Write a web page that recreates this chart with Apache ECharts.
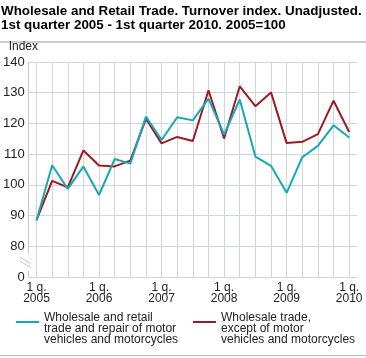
<!DOCTYPE html>
<html>
<head>
<meta charset="utf-8">
<script src="https://cdn.jsdelivr.net/npm/echarts@6/dist/echarts.min.js"></script>
<style>
html,body{margin:0;padding:0;background:#fff;}
#chart{width:366px;height:358px;}
</style>
</head>
<body>
<div id="chart"></div>
<script>
var quarters = ['1 q. 2005','2 q. 2005','3 q. 2005','4 q. 2005',
  '1 q. 2006','2 q. 2006','3 q. 2006','4 q. 2006',
  '1 q. 2007','2 q. 2007','3 q. 2007','4 q. 2007',
  '1 q. 2008','2 q. 2008','3 q. 2008','4 q. 2008',
  '1 q. 2009','2 q. 2009','3 q. 2009','4 q. 2009',
  '1 q. 2010'];
var seriesNames = ['Wholesale and retail\ntrade and repair of motor\nvehicles and motorcycles',
  'Wholesale trade,\nexcept of motor\nvehicles and motorcycles'];
var retailRepair = [88.4,106.4,98.7,106.0,96.7,108.4,106.9,122.2,114.6,122.0,121.0,128.1,116.4,127.8,109.2,106.2,97.4,109.0,112.7,119.4,115.4];
var wholesale = [88.5,101.3,99.2,111.2,106.3,106.0,107.9,121.5,113.5,115.6,114.3,130.8,115.1,132.1,125.6,130.1,113.6,114.0,116.5,127.4,117.2];
var yTicks = [70,80,90,100,110,120,130,140];
var yTickLabels = ['0','80','90','100','110','120','130','140'];

var quarterIdx = quarters.map(function(q,i){return i;});
var labelIdx = quarterIdx.filter(function(i){return quarters[i].indexOf('1 q.')===0;});
function pairs(arr){return arr.map(function(v,i){return [quarterIdx[i], v];});}

var chart = echarts.init(document.getElementById('chart'), null, {renderer:'canvas'});
var font = 'Liberation Sans, Arial, sans-serif';
var gridColor = '#d3d5dc';
var legendIcon = 'path://M0,0L0.01,0 M0,4L23,4L23,6L0,6Z M0,24L0.01,24';
chart.setOption({
  animation:false,
  textStyle:{fontFamily:font},
  title:{
    text:'Wholesale and Retail Trade. Turnover index. Unadjusted.\n1st quarter 2005 - 1st quarter 2010. 2005=100',
    left:1, top:4, padding:0,
    textStyle:{fontFamily:font,fontSize:13.4,fontWeight:'bold',color:'#000',lineHeight:14.5}
  },
  legend:[{
    data:[seriesNames[0]], left:16, top:312, padding:0,
    itemWidth:23, itemHeight:24, icon:legendIcon, symbolKeepAspect:false,
    textStyle:{fontFamily:font,fontSize:12,color:'#222',lineHeight:11}
  },{
    data:[seriesNames[1]], left:193, top:312, padding:0,
    itemWidth:23, itemHeight:24, icon:legendIcon, symbolKeepAspect:false,
    textStyle:{fontFamily:font,fontSize:12,color:'#222',lineHeight:11}
  }],
  grid:{left:27,right:9,top:62,bottom:81,containLabel:false},
  xAxis:{
    type:'value', min:-0.5, max:quarters.length-0.5,
    axisLine:{show:true,onZero:false,lineStyle:{color:gridColor,width:1}},
    axisTick:{show:false,customValues:quarterIdx},
    splitLine:{show:true,lineStyle:{color:gridColor,width:1}},
    axisLabel:{customValues:labelIdx,margin:5,fontSize:12,color:'#222',lineHeight:11,fontFamily:font,
      formatter:function(v){var q=quarters[Math.round(v)];if(!q)return '';var p=q.split(' ');return p[0]+' '+p[1]+'\n'+p[2];}}
  },
  yAxis:{
    type:'value', min:yTicks[0], max:yTicks[yTicks.length-1], interval:10,
    name:'Index', nameLocation:'end', nameGap:15,
    nameTextStyle:{align:'left',verticalAlign:'middle',fontSize:12,color:'#222',padding:[0,0,0,-20],fontFamily:font},
    axisLine:{show:true,onZero:false,lineStyle:{color:'#c4c7cf',width:1}},
    axisTick:{show:false},
    splitLine:{show:true,lineStyle:{color:gridColor,width:1}},
    axisLabel:{margin:4,fontSize:13,color:'#222',fontFamily:font,
      formatter:function(v){var i=yTicks.indexOf(v);return i>=0?yTickLabels[i]:'';}}
  },
  series:[{
    name:seriesNames[0], type:'line', data:pairs(retailRepair), symbol:'none',
    lineStyle:{color:'#17a8b8',width:2}, itemStyle:{color:'#17a8b8'}, z:3
  },{
    name:seriesNames[1], type:'line', data:pairs(wholesale), symbol:'none',
    lineStyle:{color:'#9b1b22',width:2}, itemStyle:{color:'#9b1b22'}, z:2
  }],
  graphic:[
    {type:'rect',shape:{x:0,y:41,width:366,height:2},style:{fill:'#cccccc'},silent:true},
    {type:'rect',shape:{x:0,y:355,width:366,height:1},style:{fill:'#bbbbbb'},silent:true},
    {type:'rect',shape:{x:24,y:254,width:6,height:17},style:{fill:'#ffffff'},silent:true,z:100},
    {type:'line',shape:{x1:20,y1:257,x2:31,y2:264},style:{stroke:'#c4c7cf',lineWidth:1},silent:true,z:101},
    {type:'line',shape:{x1:20,y1:261,x2:31,y2:268},style:{stroke:'#c4c7cf',lineWidth:1},silent:true,z:101}
  ]
});
</script>
</body>
</html>
